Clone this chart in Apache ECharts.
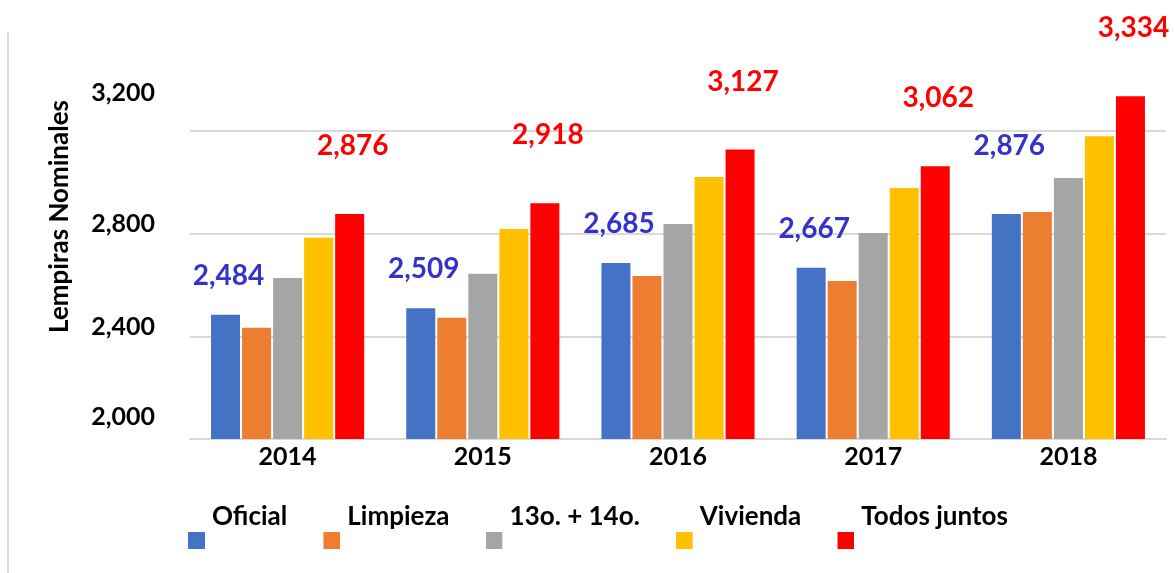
<!DOCTYPE html>
<html>
<head>
<meta charset="utf-8">
<script src="https://cdn.jsdelivr.net/npm/echarts@6/dist/echarts.min.js"></script>
<style>
	html, body { margin: 0; padding: 0; background: #fff; }
	#chart { width: 1175px; height: 573px; }
</style>
</head>
<body>
<div id="chart"></div>
<script>
// datos
var years = ['2014', '2015', '2016', '2017', '2018'];
var oficial = [2484, 2509, 2685, 2667, 2876];
var limpieza = [2433, 2472, 2635, 2615, 2884];
var aguinaldos = [2627, 2643, 2837, 2802, 3016];
var vivienda = [2783, 2818, 3020, 2977, 3179];
var todos = [2876, 2918, 3127, 3062, 3334];
var seriesNames = ['Oficial', 'Limpieza', '13o. + 14o.', 'Vivienda', 'Todos juntos'];
var yTicks = [2000, 2400, 2800, 3200];

var FONT = 'Lato';
var colors = ['#4472c4', '#ed7d31', '#a5a5a5', '#ffc000', '#ff0000'];

function fmt(v) {
	return v.toLocaleString('en-US');
}

// cuadro de leyenda desplazado hacia abajo respecto al texto
function legendIcon(color) {
	var svg = '<svg xmlns="http://www.w3.org/2000/svg" width="17" height="64">' +
		'<rect x="0" y="47" width="17" height="17" fill="' + color + '"/></svg>';
	return 'image://data:image/svg+xml;charset=utf-8,' + encodeURIComponent(svg);
}

// etiquetas de datos (solo Oficial y Todos juntos)
function dataLabel(color, dist) {
	return {
		show: true,
		position: 'top',
		distance: dist,
		offset: [3, 0],
		color: color,
		fontFamily: FONT,
		fontWeight: 'bold',
		fontSize: 28,
		formatter: function(p) { return fmt(p.value); }
	};
}

function barSeries(name, data, color, label) {
	return {
		name: name,
		type: 'bar',
		data: data,
		barWidth: 29,
		barGap: '7%',
		itemStyle: { color: color },
		label: label || { show: false }
	};
}

// en 2018 la etiqueta azul esta mas arriba
var oficialData = oficial.map(function(v, i) {
	if (i === 4) return { value: v, label: { distance: 54 } };
	return v;
});

var chart = echarts.init(document.getElementById('chart'));
var option = {
	backgroundColor: '#fff',
	animation: false,
	grid: {
		left: 190,
		right: 9,
		top: 28,
		bottom: 134
	},
	legend: {
		data: seriesNames.map(function(n, i) {
			return { name: n, icon: legendIcon(colors[i]) };
		}),
		left: 188,
		top: 485,
		padding: 0,
		itemWidth: 17,
		itemHeight: 64,
		itemGap: 36,
		textStyle: {
			fontFamily: FONT,
			fontWeight: 'bold',
			fontSize: 26,
			color: '#000',
			padding: [0, 0, 0, 2]
		}
	},
	xAxis: {
		type: 'category',
		data: years,
		axisLine: { lineStyle: { color: '#d9d9d9', width: 2 } },
		axisTick: { show: false },
		axisLabel: {
			color: '#000',
			fontFamily: FONT,
			fontWeight: 'bold',
			fontSize: 25,
			margin: 5
		}
	},
	yAxis: {
		type: 'value',
		min: yTicks[0],
		max: 3600,
		interval: 400,
		name: 'Lempiras Nominales',
		nameLocation: 'middle',
		nameRotate: 90,
		nameGap: 117,
		nameMoveOverlap: false,
		nameTextStyle: {
			color: '#000',
			fontFamily: FONT,
			fontWeight: 'bold',
			fontSize: 26,
			padding: [0, 0, 0, 34]
		},
		axisLine: { show: false },
		axisTick: { show: false },
		splitLine: { showMaxLine: false, lineStyle: { color: '#d9d9d9', width: 2 } },
		axisLabel: {
			margin: 35,
			color: '#000',
			fontFamily: FONT,
			fontWeight: 'bold',
			fontSize: 25,
			formatter: function(v) {
				if (yTicks.indexOf(v) < 0) return '';
				var k = v === 3200 ? 'a' : (v === 2000 ? 'c' : 'b');
				return '{' + k + '|' + fmt(v) + '}';
			},
			rich: {
				a: { fontFamily: FONT, fontWeight: 'bold', fontSize: 25, color: '#000', padding: [0, 0, 75, 0] },
				b: { fontFamily: FONT, fontWeight: 'bold', fontSize: 25, color: '#000', padding: [0, 0, 19, 0] },
				c: { fontFamily: FONT, fontWeight: 'bold', fontSize: 25, color: '#000', padding: [0, 0, 44, 0] }
			}
		}
	},
	graphic: [{
		type: 'line',
		shape: { x1: 8, y1: 32, x2: 8, y2: 573 },
		style: { stroke: '#d9d9d9', lineWidth: 2 }
	}],
	series: [
		barSeries(seriesNames[0], oficialData, colors[0], dataLabel('#3333cc', 25)),
		barSeries(seriesNames[1], limpieza, colors[1]),
		barSeries(seriesNames[2], aguinaldos, colors[2]),
		barSeries(seriesNames[3], vivienda, colors[3]),
		barSeries(seriesNames[4], todos, colors[4], dataLabel('#ff0000', 54))
	]
};
chart.setOption(option);
</script>
</body>
</html>
